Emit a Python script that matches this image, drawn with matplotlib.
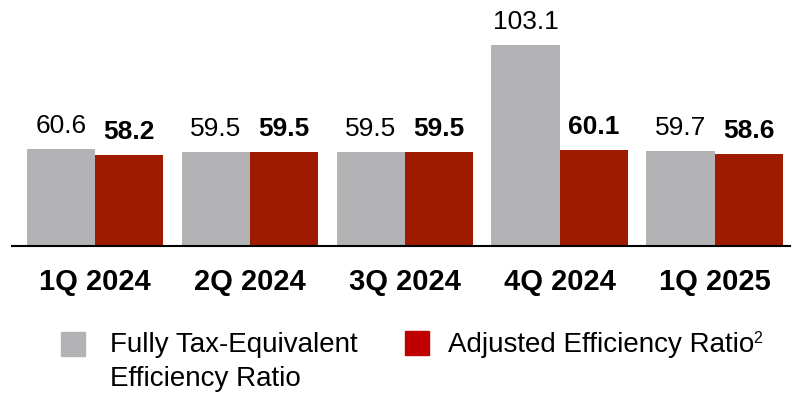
import numpy as np
import matplotlib.pyplot as plt
from matplotlib.patches import Rectangle

plt.rcParams['font.family'] = ['Liberation Sans', 'DejaVu Sans']

quarters = ['1Q 2024', '2Q 2024', '3Q 2024', '4Q 2024', '1Q 2025']
fte_ratio = [60.6, 59.5, 59.5, 103.1, 59.7]
adj_ratio = [58.2, 59.5, 59.5, 60.1, 58.6]

gray = '#B3B3B5'
red = '#9E1A00'

fig = plt.figure(figsize=(7.96, 3.93), dpi=100)
ax = fig.add_axes([0.015, 0.374, 0.978, 0.626])

x = np.arange(len(quarters))
w = 0.44
b1 = ax.bar(x - w / 2, fte_ratio, w, color=gray)
b2 = ax.bar(x + w / 2, adj_ratio, w, color=red)

ax.bar_label(b1, labels=[f'{v:.1f}' for v in fte_ratio], padding=8, fontsize=19)
ax.bar_label(b2, labels=[f'{v:.1f}' for v in adj_ratio], padding=8, fontsize=19,
             fontweight='bold')

ax.set_ylim(21, 121.4)
ax.set_xlim(-0.535, 4.49)
ax.set_yticks([])
ax.set_xticks(x)
ax.set_xticklabels(quarters, fontsize=21, fontweight='bold')
ax.tick_params(axis='x', length=0, pad=16)
for s in ['top', 'left', 'right']:
    ax.spines[s].set_visible(False)
ax.spines['bottom'].set_linewidth(1.5)
ax.spines['bottom'].set_color('black')

# legend drawn by hand so the square sits on the first text line
W, H = 796, 393
fig.patches.append(Rectangle((61 / W, 1 - 356 / H), 24 / W, 24 / H,
                             transform=fig.transFigure, color=gray))
fig.text(110 / W, 1 - 332 / H, 'Fully Tax-Equivalent\nEfficiency Ratio',
         fontsize=20, va='top', ha='left', linespacing=1.4)
fig.patches.append(Rectangle((405 / W, 1 - 355 / H), 24 / W, 24 / H,
                             transform=fig.transFigure, color='#C00000'))
t = fig.text(448 / W, 1 - 332 / H, 'Adjusted Efficiency Ratio', fontsize=20,
             va='top', ha='left')
ax.annotate('2', xy=(1, 1), xycoords=t, xytext=(-1, 1), textcoords='offset points',
            fontsize=11.5, va='top', ha='left', annotation_clip=False)

fig.savefig('out.png', dpi=100)
